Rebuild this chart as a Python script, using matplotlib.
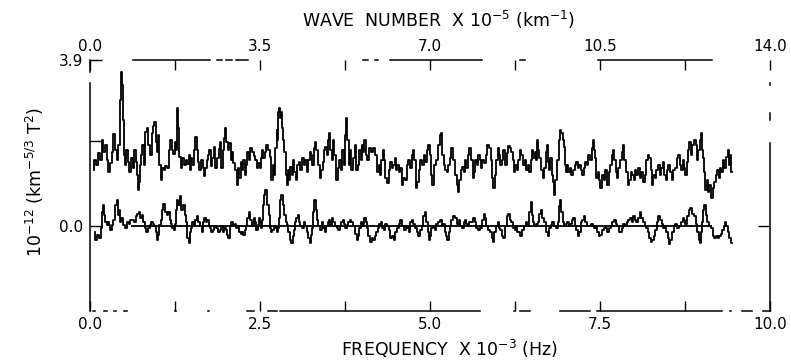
import matplotlib
matplotlib.use("Agg")
import matplotlib.pyplot as plt
from matplotlib.ticker import FixedLocator, FixedFormatter, MultipleLocator, FormatStrFormatter

# frequency in units of 10^-3 Hz, spectral values in units of 10^-12
upper_freq = [
    0.06, 0.07, 0.10, 0.13, 0.16, 0.18, 0.21, 0.24, 0.25, 0.28,
    0.31, 0.34, 0.35, 0.38, 0.40, 0.43, 0.44, 0.46, 0.47, 0.49,
    0.50, 0.53, 0.54, 0.57, 0.59, 0.62, 0.63, 0.66, 0.68, 0.69,
    0.71, 0.72, 0.75, 0.76, 0.78, 0.81, 0.82, 0.85, 0.87, 0.90,
    0.91, 0.93, 0.96, 0.97, 1.00, 1.01, 1.03, 1.06, 1.07, 1.10,
    1.12, 1.15, 1.16, 1.19, 1.21, 1.24, 1.25, 1.28, 1.29, 1.31,
    1.32, 1.35, 1.37, 1.40, 1.41, 1.44, 1.46, 1.47, 1.50, 1.51,
    1.54, 1.56, 1.59, 1.60, 1.62, 1.65, 1.66, 1.68, 1.71, 1.72,
    1.75, 1.76, 1.79, 1.81, 1.84, 1.85, 1.88, 1.90, 1.91, 1.94,
    1.96, 1.97, 2.00, 2.01,
    2.04, 2.06, 2.09, 2.10, 2.12, 2.15, 2.16, 2.18, 2.21, 2.22,
    2.25, 2.26, 2.29, 2.31, 2.32, 2.35, 2.37, 2.40, 2.41, 2.44,
    2.46, 2.49, 2.50, 2.53, 2.54, 2.56, 2.59, 2.60, 2.63, 2.65,
    2.68, 2.69, 2.71, 2.74, 2.75, 2.76, 2.78, 2.79, 2.81, 2.82,
    2.84, 2.85, 2.87, 2.88, 2.90, 2.91, 2.93, 2.96, 2.97, 3.00,
    3.01, 3.04, 3.06, 3.09, 3.10, 3.13, 3.15, 3.18, 3.19, 3.22,
    3.24, 3.26, 3.28, 3.31, 3.32, 3.34, 3.37, 3.38, 3.41, 3.43,
    3.44, 3.47, 3.49, 3.51, 3.53, 3.54, 3.57, 3.59, 3.60, 3.63,
    3.65, 3.68, 3.69, 3.72, 3.74, 3.76, 3.78, 3.79, 3.82, 3.84,
    3.85, 3.88, 3.90, 3.93, 3.94, 3.97, 3.99, 4.00, 4.03, 4.04,
    4.07, 4.09, 4.12, 4.15, 4.18, 4.21, 4.24, 4.25, 4.28, 4.29,
    4.32, 4.34, 4.35, 4.38, 4.40, 4.43, 4.44, 4.47, 4.49, 4.51,
    4.53, 4.56, 4.57, 4.60, 4.62, 4.65, 4.66, 4.69, 4.72, 4.74,
    4.76, 4.78, 4.81, 4.82, 4.85, 4.87, 4.90, 4.91, 4.94, 4.96,
    4.99, 5.00, 5.03, 5.04, 5.07, 5.10, 5.13, 5.15, 5.16, 5.19,
    5.21, 5.24, 5.26, 5.28, 5.31, 5.32, 5.35, 5.38, 5.40, 5.41,
    5.44, 5.46, 5.49, 5.50, 5.53, 5.54, 5.57, 5.59, 5.62, 5.63,
    5.65, 5.68, 5.69, 5.72, 5.74, 5.76, 5.78, 5.81, 5.84, 5.85,
    5.88, 5.90, 5.91, 5.94, 5.96, 5.99, 6.00, 6.03, 6.04,
    6.07, 6.09, 6.12, 6.13, 6.16, 6.18, 6.21, 6.22, 6.25, 6.26,
    6.29, 6.31, 6.34, 6.35, 6.38, 6.40, 6.43, 6.44, 6.47, 6.49,
    6.51, 6.53, 6.56, 6.57, 6.59, 6.60, 6.62, 6.65, 6.66, 6.69,
    6.71, 6.72, 6.75, 6.76, 6.78, 6.81, 6.82, 6.84, 6.85, 6.88,
    6.90, 6.91, 6.94, 6.96, 6.97, 6.99, 7.00, 7.03, 7.04, 7.07,
    7.09, 7.12, 7.13, 7.16, 7.18, 7.21, 7.22, 7.25, 7.28, 7.29,
    7.32, 7.34, 7.37, 7.38, 7.40, 7.41, 7.43, 7.46, 7.47, 7.50,
    7.51, 7.54, 7.57, 7.59, 7.62, 7.63, 7.66, 7.68, 7.69, 7.72,
    7.74, 7.76, 7.78, 7.81, 7.84, 7.85, 7.87, 7.90, 7.91, 7.94,
    7.96, 7.99, 8.00, 8.03, 8.04, 8.07,
    8.10, 8.12, 8.15, 8.16, 8.19, 8.21, 8.24, 8.25, 8.28, 8.29,
    8.32, 8.34, 8.37, 8.38, 8.41, 8.43, 8.46, 8.47, 8.50, 8.51,
    8.54, 8.57, 8.59, 8.62, 8.63, 8.66, 8.68, 8.71, 8.72, 8.75,
    8.76, 8.79, 8.81, 8.82, 8.85, 8.87, 8.90, 8.91, 8.93, 8.96,
    8.97, 8.99, 9.01, 9.03, 9.04, 9.06, 9.09, 9.10, 9.12, 9.15,
    9.16, 9.19, 9.21, 9.24, 9.25, 9.28, 9.29, 9.32, 9.34, 9.37,
    9.38, 9.40, 9.41, 9.44,
]
upper_psd = [
    1.32, 1.55, 1.44, 1.72, 1.55, 2.02, 1.74, 1.91, 1.55, 1.27,
    1.48, 1.74, 2.16, 1.79, 1.55, 1.91, 2.96, 3.62, 3.32, 2.49,
    1.67, 1.44, 1.79, 1.51, 1.27, 1.60, 1.36, 1.79, 1.51, 1.20,
    0.85, 1.04, 1.44, 1.67, 1.91, 1.44, 2.21, 2.31, 1.91, 1.67,
    2.19, 2.35, 2.45, 1.98, 1.74, 2.14, 1.44, 1.08, 1.36, 1.32,
    1.41, 1.36, 1.79, 2.02, 1.79, 1.69, 1.98, 1.79, 2.78, 2.31,
    1.62, 1.36, 1.60, 1.44, 1.55, 1.46, 1.67, 1.32, 1.60, 1.44,
    1.79, 2.09, 1.79, 1.51, 1.32, 1.55, 1.36, 1.18, 1.36, 1.55,
    1.67, 1.79, 1.41, 1.60, 1.86, 1.36, 1.60, 1.81, 1.98, 1.36,
    1.79, 2.07, 2.31, 1.98,
    1.79, 1.95, 1.55, 1.74, 1.48, 1.32, 0.96, 1.36, 1.13, 1.51,
    1.32, 1.55, 1.20, 1.44, 1.74, 1.55, 1.84, 1.74, 1.65, 1.55,
    1.36, 1.48, 1.36, 1.60, 1.79, 1.60, 1.74, 1.91, 1.79, 1.62,
    1.08, 1.44, 1.20, 1.84, 2.26, 2.02, 2.68, 2.78, 2.54, 2.68,
    2.31, 2.02, 1.74, 1.20, 0.96, 1.32, 1.08, 1.39, 1.20, 1.55,
    1.27, 1.08, 1.44, 1.51, 1.32, 1.60, 1.44, 1.55, 1.27, 1.55,
    1.74, 1.67, 1.44, 1.84, 1.98, 1.79, 1.44, 1.13, 1.32, 1.51,
    1.79, 1.86, 1.67, 2.02, 2.19, 1.79, 1.55, 2.02, 1.67, 1.08,
    1.36, 1.55, 1.32, 1.79, 1.44, 2.14, 2.54, 2.02, 1.44, 1.79,
    1.32, 1.60, 1.91, 1.32, 1.44, 1.79, 1.55, 1.91, 1.74, 2.02,
    1.67, 1.55, 1.84, 1.74, 1.84, 1.67, 1.27, 1.44, 1.20, 1.55,
    1.79, 1.55, 1.13, 1.01, 1.32, 1.51, 1.36, 1.44, 1.60, 1.32,
    1.44, 1.27, 1.36, 0.96, 1.13, 1.08, 1.44, 1.55, 1.36, 1.67,
    1.79, 1.55, 0.89, 1.04, 1.32, 1.55, 1.44, 1.67, 1.51, 1.79,
    1.91, 1.67, 1.20, 0.96, 1.44, 1.55, 1.91, 2.14, 2.19, 1.67,
    1.44, 1.32, 1.27, 1.44, 1.60, 1.84, 1.55, 1.20, 0.96, 0.80,
    1.08, 1.32, 1.39, 1.27, 1.55, 1.36, 1.67, 1.84, 1.55, 1.13,
    1.27, 1.55, 1.44, 1.67, 1.55, 1.36, 1.55, 1.48, 1.67, 1.91,
    1.84, 1.55, 1.13, 0.89, 1.20, 1.55, 1.84, 1.67, 1.44,
    1.55, 1.79, 1.44, 1.72, 1.88, 1.84, 1.74, 1.55, 1.27, 1.44,
    1.32, 1.55, 1.79, 1.67, 1.44, 1.55, 1.32, 1.44, 1.27, 1.55,
    1.79, 1.60, 1.74, 1.55, 2.02, 1.79, 1.60, 1.32, 1.13, 1.36,
    1.74, 1.91, 1.51, 1.32, 1.60, 1.20, 1.04, 0.73, 1.08, 1.55,
    2.02, 2.26, 2.19, 2.02, 1.86, 1.44, 1.27, 1.44, 1.27, 1.36,
    1.20, 1.32, 1.44, 1.51, 1.36, 1.44, 1.32, 1.20, 1.36, 1.51,
    1.44, 1.67, 1.55, 1.84, 2.02, 1.79, 1.60, 1.13, 1.27, 1.08,
    0.89, 1.20, 1.08, 1.32, 0.96, 1.27, 1.44, 1.67, 1.79, 1.55,
    1.27, 1.13, 1.36, 1.55, 1.74, 1.91, 1.55, 1.27, 0.96, 1.08,
    1.27, 1.20, 1.08, 1.32, 1.20, 1.36,
    1.13, 1.27, 1.04, 1.20, 1.55, 1.67, 1.60, 1.32, 0.96, 1.20,
    1.13, 1.32, 1.44, 1.20, 1.36, 1.51, 1.20, 1.08, 1.32, 1.44,
    1.27, 1.08, 1.32, 1.36, 1.60, 1.67, 1.44, 1.32, 1.55, 1.36,
    1.20, 1.51, 1.79, 1.98, 1.67, 1.91, 2.02, 1.91, 1.55, 1.79,
    2.02, 2.19, 1.79, 1.60, 1.27, 0.85, 1.08, 0.80, 0.96, 0.66,
    0.89, 1.04, 1.20, 1.32, 1.13, 1.36, 1.27, 1.55, 1.36, 1.62,
    1.79, 1.44, 1.67, 1.27,
]

lower_freq = [
    0.07, 0.09, 0.12, 0.15, 0.16, 0.18, 0.19, 0.21, 0.24, 0.25,
    0.28, 0.29, 0.31, 0.34, 0.35, 0.38, 0.40, 0.41, 0.43, 0.44,
    0.47, 0.49, 0.51, 0.53, 0.56, 0.59, 0.60, 0.63, 0.66, 0.68,
    0.71, 0.72, 0.75, 0.78, 0.79, 0.82, 0.84, 0.87, 0.88, 0.91,
    0.93, 0.96, 0.97, 1.00, 1.01, 1.03, 1.06, 1.07, 1.09, 1.12,
    1.13, 1.16, 1.18, 1.19, 1.22, 1.24, 1.25, 1.28, 1.29, 1.31,
    1.34, 1.35, 1.38, 1.40, 1.41, 1.44, 1.46, 1.47, 1.50, 1.51,
    1.54, 1.56, 1.59, 1.60, 1.63, 1.65, 1.66, 1.69, 1.71, 1.74,
    1.75, 1.78, 1.79, 1.82, 1.84, 1.87, 1.90, 1.91, 1.94, 1.96,
    1.99, 2.00,
    2.03, 2.04, 2.07, 2.09, 2.12, 2.13, 2.16, 2.18, 2.21, 2.22,
    2.25, 2.26, 2.29, 2.31, 2.32, 2.35, 2.37, 2.40, 2.41, 2.43,
    2.46, 2.47, 2.49, 2.51, 2.53, 2.54, 2.56, 2.57, 2.59, 2.62,
    2.63, 2.65, 2.66, 2.69, 2.71, 2.74, 2.75, 2.78, 2.79, 2.81,
    2.82, 2.85, 2.87, 2.88, 2.90, 2.93, 2.94, 2.97, 2.99, 3.00,
    3.03, 3.04, 3.07, 3.09, 3.10, 3.13, 3.15, 3.18, 3.19, 3.22,
    3.24, 3.26, 3.28, 3.29, 3.31, 3.34, 3.35, 3.37, 3.40, 3.41,
    3.44, 3.46, 3.49, 3.50, 3.53, 3.54, 3.57, 3.59, 3.62, 3.63,
    3.66, 3.68, 3.71, 3.72, 3.75, 3.76, 3.79, 3.81, 3.84, 3.85,
    3.88, 3.91, 3.93, 3.94, 3.97, 3.99, 4.01, 4.03, 4.04,
    4.07, 4.09, 4.10, 4.13, 4.15, 4.18, 4.19, 4.22, 4.24, 4.26,
    4.29, 4.31, 4.34, 4.35, 4.38, 4.40, 4.43, 4.46, 4.47, 4.50,
    4.53, 4.56, 4.57, 4.60, 4.63, 4.65, 4.68, 4.69, 4.72, 4.75,
    4.76, 4.79, 4.82, 4.84, 4.87, 4.88, 4.91, 4.93, 4.96, 4.97,
    4.99, 5.01, 5.03, 5.06, 5.09, 5.10, 5.13, 5.16, 5.18, 5.21,
    5.22, 5.25, 5.26, 5.29, 5.31, 5.32, 5.35, 5.38, 5.41, 5.43,
    5.46, 5.49, 5.50, 5.53, 5.54, 5.57, 5.59, 5.62, 5.65, 5.66,
    5.69, 5.72, 5.74, 5.76, 5.78, 5.81, 5.82, 5.84, 5.87, 5.90,
    5.91, 5.93, 5.96, 5.99, 6.00, 6.03, 6.04,
    6.07, 6.09, 6.12, 6.13, 6.16, 6.18, 6.21, 6.24, 6.25, 6.28,
    6.29, 6.32, 6.34, 6.37, 6.40, 6.41, 6.44, 6.47, 6.49, 6.50,
    6.53, 6.54, 6.57, 6.60, 6.62, 6.63, 6.66, 6.69, 6.72, 6.74,
    6.75, 6.76, 6.79, 6.81, 6.84, 6.87, 6.88, 6.90, 6.91, 6.94,
    6.96, 6.99, 7.00, 7.03, 7.06, 7.07, 7.10, 7.12, 7.13, 7.16,
    7.18, 7.21, 7.22, 7.25, 7.28, 7.29, 7.32, 7.35, 7.38, 7.40,
    7.43, 7.44, 7.47, 7.50, 7.51, 7.54, 7.57, 7.59, 7.62, 7.65,
    7.66, 7.69, 7.72, 7.74, 7.76, 7.79, 7.81, 7.84, 7.85, 7.88,
    7.90, 7.93, 7.96, 7.97, 8.00, 8.03, 8.04, 8.07,
    8.10, 8.12, 8.15, 8.16, 8.19, 8.21, 8.24, 8.26, 8.28, 8.31,
    8.32, 8.35, 8.37, 8.40, 8.41, 8.44, 8.46, 8.49, 8.50, 8.53,
    8.54, 8.57, 8.60, 8.62, 8.65, 8.68, 8.71, 8.72, 8.75, 8.76,
    8.79, 8.82, 8.84, 8.87, 8.90, 8.91, 8.94, 8.96, 8.97, 9.00,
    9.01, 9.03, 9.04, 9.07, 9.09, 9.12, 9.15, 9.16, 9.19, 9.22,
    9.24, 9.26, 9.29, 9.31, 9.34, 9.35, 9.37, 9.38, 9.41, 9.44,
]
lower_psd = [
    -0.14, -0.33, -0.21, -0.28, -0.05, 0.33, 0.49, 0.26, 0.09, 0.02,
    0.09, 0.02, -0.09, 0.02, 0.14, 0.49, 0.61, 0.26, 0.38, 0.09,
    0.19, 0.02, 0.02, -0.05, 0.09, 0.05, 0.14, 0.14, 0.09, 0.24,
    0.28, 0.33, 0.19, 0.26, 0.09, -0.05, -0.14, -0.05, 0.02, 0.09,
    0.05, 0.00, -0.14, -0.33, -0.21, 0.02, 0.14, 0.38, 0.52, 0.33,
    0.26, 0.33, 0.14, 0.05, -0.05, -0.09, 0.05, 0.38, 0.61, 0.49,
    0.71, 0.38, 0.49, 0.26, 0.09, -0.28, -0.40, -0.14, -0.05, 0.09,
    0.02, 0.14, 0.24, 0.09, 0.00, -0.14, 0.09, 0.19, 0.09, 0.14,
    0.00, -0.05, -0.14, -0.09, 0.00, -0.05, -0.14, -0.09, 0.00, -0.14,
    -0.05, -0.09,
    -0.21, -0.28, 0.00, 0.09, 0.02, 0.05, -0.05, 0.00, -0.14, -0.19,
    -0.14, -0.21, -0.09, 0.00, 0.19, 0.33, 0.14, 0.00, 0.19, 0.09,
    -0.09, 0.02, 0.19, 0.09, -0.05, 0.14, 0.49, 0.73, 0.85, 0.49,
    0.26, -0.05, -0.14, -0.09, 0.00, -0.05, -0.14, -0.05, 0.19, 0.61,
    0.73, 0.49, 0.26, 0.09, 0.02, -0.14, -0.33, -0.40, -0.24, -0.09,
    0.09, 0.19, 0.26, 0.09, 0.00, -0.05, 0.09, 0.00, -0.14, -0.28,
    -0.40, -0.21, -0.05, 0.33, 0.61, 0.38, 0.14, 0.00, -0.09, 0.09,
    -0.05, -0.14, 0.00, 0.09, 0.14, 0.02, 0.19, 0.09, 0.00, -0.05,
    -0.09, 0.00, 0.09, 0.14, 0.05, -0.05, 0.02, 0.09, 0.14, 0.09,
    0.00, -0.19, -0.33, -0.24, -0.05, 0.09, 0.00, 0.05, 0.19,
    0.09, -0.05, -0.24, -0.38, -0.28, -0.33, -0.24, -0.14, -0.05, 0.05,
    0.09, -0.05, -0.09, 0.05, 0.00, -0.09, -0.28, -0.24, -0.33, -0.14,
    -0.05, 0.05, 0.14, 0.00, -0.09, 0.00, -0.05, -0.14, 0.09, 0.14,
    0.05, -0.05, -0.14, -0.24, -0.09, 0.00, 0.24, 0.33, 0.09, -0.14,
    -0.33, -0.24, -0.05, 0.00, -0.09, 0.05, 0.09, 0.14, 0.00, 0.05,
    -0.14, -0.24, -0.33, -0.14, 0.00, 0.14, 0.24, 0.19, 0.05, 0.14,
    0.00, -0.05, 0.09, 0.14, 0.05, 0.00, 0.09, 0.09, 0.19, 0.09,
    -0.05, -0.09, 0.00, -0.05, 0.14, 0.28, 0.19, 0.00, -0.09, -0.14,
    -0.28, -0.38, -0.14, 0.00, 0.09, -0.05, -0.09,
    -0.24, -0.28, 0.00, 0.24, 0.28, 0.14, 0.09, -0.05, -0.09, 0.00,
    -0.14, -0.14, -0.24, -0.09, 0.00, 0.09, 0.00, 0.33, 0.56, 0.26,
    0.09, 0.00, 0.05, 0.09, 0.28, 0.38, 0.19, 0.09, -0.14, -0.24,
    -0.14, -0.05, 0.02, 0.09, 0.00, -0.05, 0.09, 0.47, 0.61, 0.33,
    0.09, 0.00, 0.05, 0.09, 0.00, 0.05, 0.14, 0.19, 0.00, -0.09,
    -0.24, -0.14, 0.09, 0.14, 0.24, 0.09, 0.00, 0.00, 0.05, 0.00,
    -0.05, 0.00, -0.14, -0.24, -0.21, -0.09, -0.05, -0.05, -0.14, -0.05,
    0.00, 0.09, 0.14, 0.05, 0.00, -0.14, -0.14, -0.05, 0.05, 0.00,
    0.09, 0.14, 0.19, 0.09, 0.24, 0.14, 0.09, 0.19,
    0.33, 0.19, 0.09, 0.00, -0.05, -0.14, -0.28, -0.38, -0.33, -0.24,
    -0.09, 0.09, 0.24, 0.14, 0.05, -0.05, 0.00, -0.14, -0.28, -0.42,
    -0.33, -0.14, 0.00, 0.05, -0.05, 0.00, 0.09, 0.19, 0.14, 0.05,
    0.24, 0.38, 0.42, 0.28, 0.24, 0.05, -0.14, -0.33, -0.40, -0.14,
    0.09, 0.38, 0.49, 0.26, 0.09, 0.00, -0.05, -0.24, -0.28, -0.24,
    -0.28, -0.24, -0.19, -0.09, 0.00, 0.09, 0.00, -0.14, -0.28, -0.40,
]

freq_ticks = [0.0, 2.5, 5.0, 7.5, 10.0]
wave_ticks = [0.0, 3.5, 7.0, 10.5, 14.0]
psd_ticks = [0.0, 2.0, 3.9]
psd_ticklabels = ["0.0", "", "3.9"]
wave_per_freq = 1.4          # 14.0 x 10^-5 km^-1 sits at 10.0 x 10^-3 Hz
zero_from, zero_to = 0.6, 9.15

assert len(upper_freq) == len(upper_psd)
assert len(lower_freq) == len(lower_psd)

plt.rcParams["font.family"] = ["DejaVu Sans"]
plt.rcParams["mathtext.default"] = "regular"
plt.rcParams["lines.scale_dashes"] = False

W, H = 791, 360


def broken(spans, start=0):
    # spans: drawn pieces in pixels along the spine, from where the spine starts
    # (the scanned original only kept parts of its axis lines)
    # agg keeps at most 16 on/off pairs, so keep the lists short
    k = 0.72  # px -> pt at 100 dpi
    seq = []
    for i, (a, b) in enumerate(spans):
        nxt = spans[i + 1][0] if i + 1 < len(spans) else b + 3000
        seq += [max(b - a, 0.6) * k, (nxt - b) * k]
    g0 = (spans[0][0] - start) * k
    return (sum(seq) - g0, seq)


fig = plt.figure(figsize=(W / 100, H / 100), dpi=100)
ax = fig.add_axes([90 / W, 1 - 311 / H, 680 / W, 251 / H])

ax.plot(upper_freq, upper_psd, color="black", lw=1.3, drawstyle="steps-mid")
ax.plot(lower_freq, lower_psd, color="black", lw=1.3, drawstyle="steps-mid")
ax.hlines(0, zero_from, zero_to, color="black", lw=1.3)

ax.set_xlim(0, 10)
ax.set_ylim(-2.0, 3.9)

# bottom axis: frequency
ax.xaxis.set_major_locator(FixedLocator(freq_ticks))
ax.xaxis.set_major_formatter(FormatStrFormatter("%.1f"))
ax.xaxis.set_minor_locator(MultipleLocator(1.25))
ax.tick_params(axis="x", which="both", direction="in", top=False,
               length=7, width=1, labelsize=11, pad=4)

# left axis
ax.yaxis.set_major_locator(FixedLocator(psd_ticks))
ax.yaxis.set_major_formatter(FixedFormatter(psd_ticklabels))
ax.tick_params(axis="y", direction="in", right=False, length=8.5,
               width=1, labelsize=11, pad=5)

# top axis: wave number
top = ax.secondary_xaxis("top", functions=(lambda f: f * wave_per_freq,
                                            lambda k: k / wave_per_freq))
top.xaxis.set_major_locator(FixedLocator(wave_ticks))
top.xaxis.set_major_formatter(FormatStrFormatter("%.1f"))
top.xaxis.set_minor_locator(MultipleLocator(1.75))
top.tick_params(axis="x", which="both", direction="in", length=7,
                width=1, labelsize=11, pad=4)

# right axis with a single mark at zero
right = ax.secondary_yaxis("right")
right.yaxis.set_major_locator(FixedLocator([0.0]))
right.tick_params(axis="y", direction="in", length=8.5, width=1,
                  labelright=False)

ax.spines["top"].set_visible(False)
ax.spines["right"].set_visible(False)
for sp in [ax.spines["bottom"], ax.spines["left"], top.spines["top"], right.spines["right"]]:
    sp.set_linewidth(1.1)
    sp.set_color("black")

ax.spines["bottom"].set_linestyle(broken(
    [(93, 95), (104, 107), (114, 116), (124, 127), (175, 176), (208, 209),
     (247, 254), (268, 277), (280, 480), (514, 515), (520, 530), (560, 590),
     (597, 722), (730, 731), (742, 752), (763, 770)], start=90))
top.spines["top"].set_linestyle(broken(
    [(133, 210), (217, 222), (226, 232), (236, 248), (363, 368), (375, 378),
     (390, 482), (520, 525), (598, 712)], start=90))
ax.spines["left"].set_linestyle(broken([(0, 228), (239, 251)]))
right.spines["right"].set_linestyle(broken([(0, 168), (191, 198), (226, 228)]))

fig.text(450 / W, 1 - 349 / H, "FREQUENCY  X 10$^{-3}$ (Hz)",
         ha="center", va="center", fontsize=12.5)
fig.text(438 / W, 1 - 20 / H, "WAVE  NUMBER  X 10$^{-5}$ (km$^{-1}$)",
         ha="center", va="center", fontsize=12.5)
fig.text(35 / W, 1 - 182 / H, "10$^{-12}$ (km$^{-5/3}$ T$^{2}$)",
         rotation=90, ha="center", va="center", fontsize=12.5)

fig.savefig("out.png", dpi=100)
